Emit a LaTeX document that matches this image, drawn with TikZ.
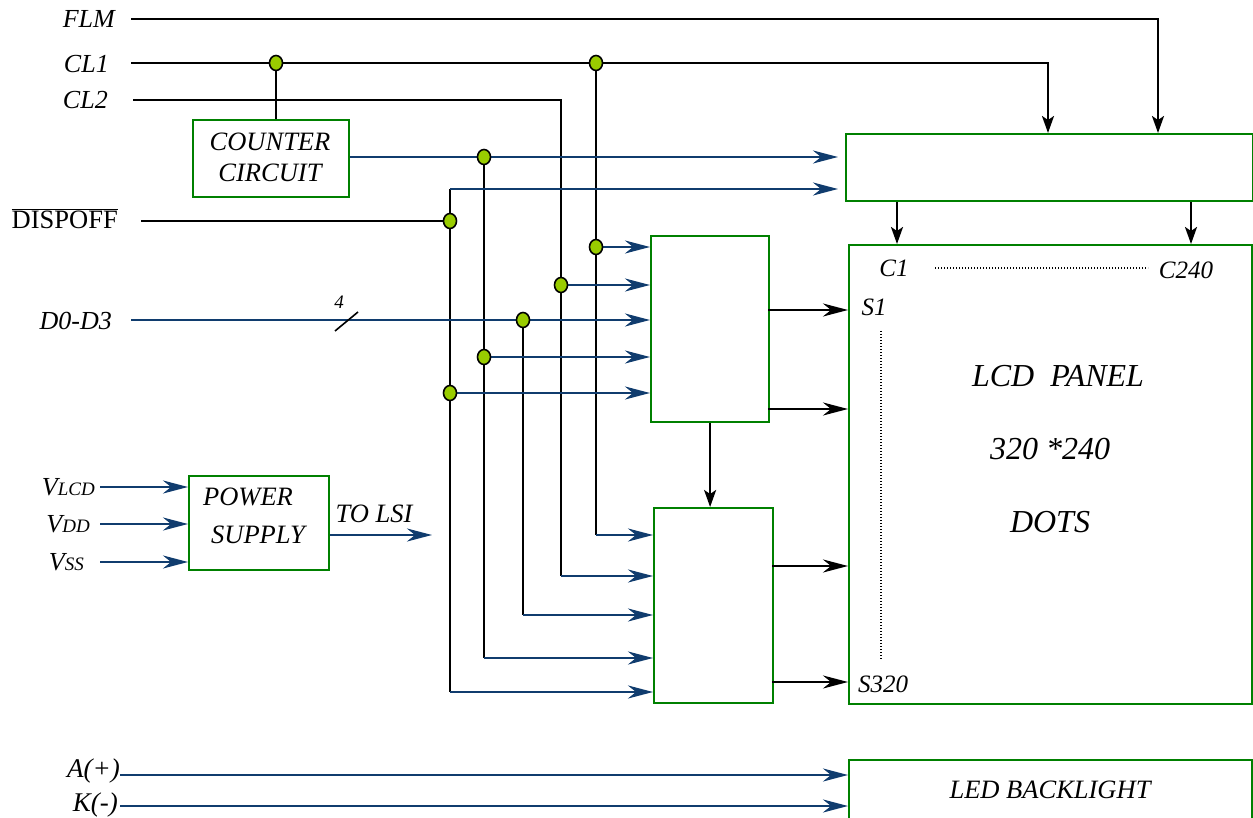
\documentclass[tikz,border=0pt]{standalone}
\usepackage{fontspec}
\setmainfont{Liberation Serif}
\usetikzlibrary{arrows.meta,shapes.geometric}
\definecolor{wgreen}{RGB}{0,128,0}
\definecolor{wblue}{RGB}{16,60,110}
\definecolor{jfill}{RGB}{153,204,0}
\begin{document}
\begin{tikzpicture}[x=1pt,y=-1pt,
  box/.style={draw=wgreen, line width=2.2pt, inner sep=0pt, anchor=north west},
  bw/.style={line width=2.3pt, black},
  bl/.style={line width=2.5pt, wblue},
  arr/.style={-{Stealth[length=25pt,width=13pt,inset=8pt]}},
  varr/.style={-{Stealth[length=17pt,width=12pt,inset=4pt]}},
  jn/.style={ellipse, draw=black, fill=jfill, line width=1.6pt, minimum width=13pt, minimum height=15pt, inner sep=0pt},
  lab/.style={font=\fontsize{26}{31}\selectfont\itshape, anchor=east, inner sep=0pt},
  txt/.style={font=\fontsize{26.5}{31}\selectfont\itshape, inner sep=0pt, align=center},
  big/.style={font=\fontsize{32}{38}\selectfont\itshape, inner sep=0pt},
  sm/.style={font=\fontsize{25}{30}\selectfont\itshape, inner sep=0pt},
  dots/.style={line width=1.4pt, dash pattern=on 1pt off 2pt}
]
\useasboundingbox (0,0) rectangle (1253,818);

% boxes
\node[box, minimum width=156pt, minimum height=77pt] (cc) at (192,119) {};
\node[box, minimum width=407pt, minimum height=67pt] (tb) at (845,133) {};
\node[box, minimum width=118pt, minimum height=186pt] (ub) at (650,235) {};
\node[box, minimum width=119pt, minimum height=195pt] (lb) at (653,507) {};
\node[box, minimum width=403pt, minimum height=459pt] (lcd) at (848,244) {};
\node[box, minimum width=140pt, minimum height=94pt] (ps) at (188,475) {};
\node[box, minimum width=403pt, minimum height=70pt] (led) at (848,759) {};

% box texts
\node[txt] (cct) at (270,157) {COUNTER\\CIRCUIT};
\node[txt] (pw) at (248,497) {POWER};
\node[txt] (sp) at (258,535) {SUPPLY};
\node[txt] (tolsi) at (374,514) {TO LSI};
\node[big] (lcdt) at (1058,376) {LCD\ \ PANEL};
\node[big] (dim) at (1050,449) {320 *240};
\node[big] (dts) at (1050,522) {DOTS};
\node[sm] (c1) at (894,268) {C1};
\node[sm] (c240) at (1186,270) {C240};
\node[sm] (s1) at (874,307) {S1};
\node[sm] (s320) at (883,684) {S320};
\node[txt] (ledt) at (1050,790) {LED BACKLIGHT};
\draw[dots] (935,268) -- (1148,268);
\draw[dots] (881,331) -- (881,660);

% labels
\node[lab] (flm) at (115,19) {FLM};
\node[lab] (cl1) at (109,64) {CL1};
\node[lab] (cl2) at (108,100) {CL2};
\node[lab, font=\fontsize{26.5}{31}\selectfont] (dpo) at (118,219) {$\overline{\hbox{DISPOFF}}$};
\node[lab] (dd) at (112,321) {D0-D3};
\node[lab] (vlcd) at (95,487) {V{\fontsize{19}{22}\selectfont LCD}};
\node[lab] (vdd) at (90,524) {V{\fontsize{19}{22}\selectfont DD}};
\node[lab] (vss) at (84,562) {V{\fontsize{19}{22}\selectfont SS}};
\node[lab, font=\fontsize{27}{32}\selectfont\itshape] (ap) at (120,771) {A(+)};
\node[lab, font=\fontsize{27}{32}\selectfont\itshape] (km) at (118,805) {K(-)};
\node[font=\fontsize{19}{21}\selectfont\itshape, inner sep=0pt] (four) at (339,302) {4};

% free-end coordinates
\coordinate (flms) at (131,19);
\coordinate (cl1s) at (131,63);
\coordinate (cl2s) at (133,100);
\coordinate (dps) at (141,221);
\coordinate (dds) at (131,320);
\coordinate (d0) at (450,189);
\coordinate (xflm) at (1158,0);
\coordinate (xcl1) at (1048,0);
\coordinate (xc1) at (897,0);
\coordinate (xc240) at (1191,0);
\coordinate (l1) at (596,535);
\coordinate (l2) at (561,576);
\coordinate (l3) at (523,615);
\coordinate (l4) at (484,658);
\coordinate (l5) at (450,692);
\coordinate (o1) at (768,310);
\coordinate (o2) at (768,409);
\coordinate (o3) at (772,566);
\coordinate (o4) at (772,682);
\coordinate (vls) at (100,487);
\coordinate (vds) at (100,524);
\coordinate (vss0) at (100,562);
\coordinate (pe) at (432,535);
\coordinate (as) at (120,775);
\coordinate (ks) at (120,806);
\coordinate (sl1) at (335,331);
\coordinate (sl2) at (358,312);

% junction positions
\coordinate (jA) at (276,63);
\coordinate (jB) at (596,63);
\coordinate (jC) at (484,157);
\coordinate (jD) at (450,221);
\coordinate (jE) at (596,247);
\coordinate (jF) at (561,285);
\coordinate (jG) at (523,320);
\coordinate (jH) at (484,357);
\coordinate (jI) at (450,393);

% black wires
\draw[bw,varr] (flms) -| (tb.north -| xflm);
\draw[bw] (cl1s) -- (jB);
\draw[bw,varr] (jB) -| (tb.north -| xcl1);
\draw[bw] (jA) -- (cc.north -| jA);
\draw[bw] (cl2s) -| (l2);
\draw[bw] (dps) -- (jD);
\draw[bw] (d0) -- (l5);
\draw[bw] (jC) -- (l4);
\draw[bw] (jG) -- (l3);
\draw[bw] (jB) -- (l1);
% blue wires to top box
\draw[bl,arr,shorten >=7pt] (cc.east |- jC) -- (jC -| tb.west);
\draw[bl,arr,shorten >=7pt] (d0) -- (d0 -| tb.west);
% data line
\draw[bl,arr] (dds) -- (dds -| ub.west);
\draw[line width=1.6pt] (sl1) -- (sl2);
% inputs to upper block
\draw[bl,arr] (jE) -- (jE -| ub.west);
\draw[bl,arr] (jF) -- (jF -| ub.west);
\draw[bl,arr] (jH) -- (jH -| ub.west);
\draw[bl,arr] (jI) -- (jI -| ub.west);
% inputs to lower block
\draw[bl,arr] (l1) -- (l1 -| lb.west);
\draw[bl,arr] (l2) -- (l2 -| lb.west);
\draw[bl,arr] (l3) -- (l3 -| lb.west);
\draw[bl,arr] (l4) -- (l4 -| lb.west);
\draw[bl,arr] (l5) -- (l5 -| lb.west);

% junction dots on top
\foreach \j in {jA,jB,jC,jD,jE,jF,jG,jH,jI}{\node[jn] (n\j) at (\j) {};}

% block to block
\draw[bw,varr] (ub.south) -- (ub.south |- lb.north);
% outputs to LCD
\draw[bw,arr] (o1) -- (o1 -| lcd.west);
\draw[bw,arr] (o2) -- (o2 -| lcd.west);
\draw[bw,arr] (o3) -- (o3 -| lcd.west);
\draw[bw,arr] (o4) -- (o4 -| lcd.west);
\draw[bw,varr] (tb.south -| xc1) -- (lcd.north -| xc1);
\draw[bw,varr] (tb.south -| xc240) -- (lcd.north -| xc240);

% power supply
\draw[bl,arr] (vls) -- (vls -| ps.west);
\draw[bl,arr] (vds) -- (vds -| ps.west);
\draw[bl,arr] (vss0) -- (vss0 -| ps.west);
\draw[bl,arr] (ps.east |- pe) -- (pe);

% backlight
\draw[bl,arr] (as) -- (as -| led.west);
\draw[bl,arr] (ks) -- (ks -| led.west);
\end{tikzpicture}
\end{document}
